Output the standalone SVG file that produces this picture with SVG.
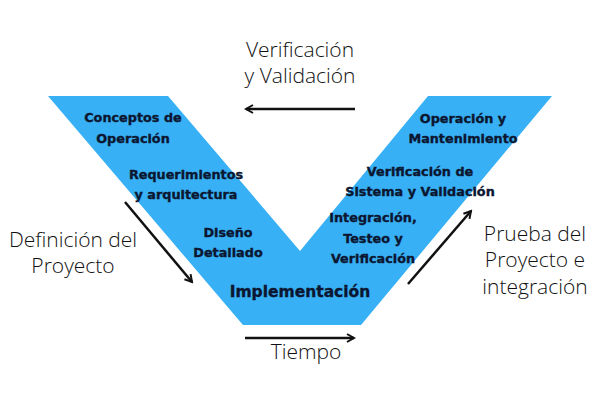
<svg xmlns="http://www.w3.org/2000/svg" width="600" height="400" viewBox="0 0 600 400">
<style>
.bg{fill:#ffffff}
.v{fill:#38b0f5}
.b{font-family:"DejaVu Sans","Liberation Sans",sans-serif;font-weight:bold;font-size:12.8px;fill:#0b1630;stroke:#0b1630;stroke-width:0.35;text-anchor:middle}
.big{font-size:15.5px}
.l{font-family:"Open Sans","Liberation Sans",sans-serif;font-weight:300;font-size:21px;fill:#111;text-anchor:middle}
.c{stroke:#111;stroke-width:2.5;fill:none;marker-end:url(#ah)}
</style>
<defs>
<marker id="ah" viewBox="0 0 10 10" refX="8" refY="5" markerWidth="4" markerHeight="4" orient="auto" markerUnits="strokeWidth">
<path d="M1,1 L8,5 L1,9" fill="none" stroke="#111" stroke-width="2"/>
</marker>
</defs>
<rect class="bg" x="0" y="0" width="600" height="400"/>
<g id="vshape">
<polygon class="v" points="48,96 168,96 300,251 428,96 552,96 361,325 243,325"/>
</g>
<g id="n-conceptos"><text class="b" x="133" y="122">Conceptos de</text><text class="b" x="133" y="143">Operación</text></g>
<g id="n-requerimientos"><text class="b" x="186" y="179">Requerimientos</text><text class="b" x="186" y="199">y arquitectura</text></g>
<g id="n-diseno"><text class="b" x="228" y="237">Diseño</text><text class="b" x="228" y="257">Detallado</text></g>
<g id="n-implementacion"><text class="b big" x="300" y="297">Implementación</text></g>
<g id="n-integracion"><text class="b" x="373" y="222">Integración,</text><text class="b" x="373" y="243">Testeo y</text><text class="b" x="373" y="263">Verificación</text></g>
<g id="n-verificacion"><text class="b" x="420" y="176">Verificación de</text><text class="b" x="420" y="196">Sistema y Validación</text></g>
<g id="n-operacion"><text class="b" x="463" y="123">Operación y</text><text class="b" x="463" y="143">Mantenimiento</text></g>
<g id="n-vv"><text class="l" x="300" y="57">Verificación</text><text class="l" x="300" y="83">y Validación</text></g>
<g id="n-definicion"><text class="l" x="73" y="247">Definición del</text><text class="l" x="73" y="273">Proyecto</text></g>
<g id="n-prueba"><text class="l" x="535" y="241">Prueba del</text><text class="l" x="535" y="267">Proyecto e</text><text class="l" x="535" y="294">integración</text></g>
<g id="n-tiempo"><text class="l" x="306" y="359">Tiempo</text></g>
<g id="connectors">
<line class="c" x1="355" y1="109" x2="246" y2="109"/>
<line class="c" x1="125" y1="202" x2="192" y2="282"/>
<line class="c" x1="408" y1="284" x2="471" y2="211"/>
<line class="c" x1="245" y1="338" x2="354" y2="338"/>
</g>
</svg>
